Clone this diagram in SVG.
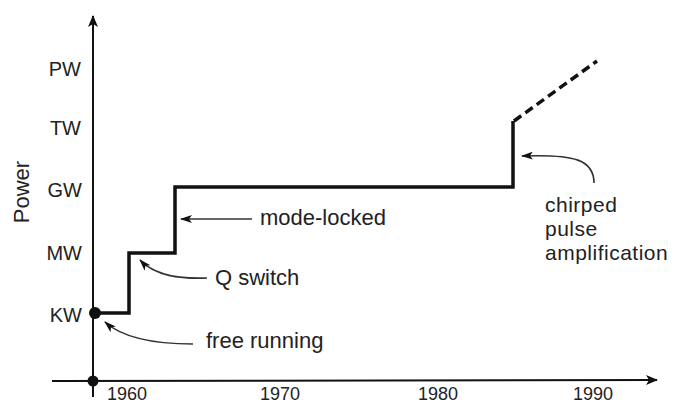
<svg xmlns="http://www.w3.org/2000/svg" width="674" height="405" viewBox="0 0 674 405">
  <style>
    .lbl { font-family: "Liberation Sans", Arial, sans-serif; font-size: 22px; fill: #222; }
    .note { font-family: "Liberation Sans", Arial, sans-serif; font-size: 21px; letter-spacing: 0.5px; fill: #222; }
    .unit { font-family: "Liberation Sans", Arial, sans-serif; font-size: 20px; fill: #222; }
    .tick { font-family: "Liberation Sans", Arial, sans-serif; font-size: 18px; fill: #222; }
    .axis { stroke: #111; stroke-width: 2; fill: none; }
    .step { stroke: #111; stroke-width: 3.5; fill: none; stroke-linejoin: miter; }
    .pointer { stroke: #333; stroke-width: 1.6; fill: none; marker-end: url(#tip); }
  </style>
  <defs>
    <marker id="tip" viewBox="0 0 12 8" refX="11" refY="4" markerWidth="12" markerHeight="8" markerUnits="userSpaceOnUse" orient="auto">
      <path d="M0,0 L12,4 L0,8 L3,4 Z" fill="#111"/>
    </marker>
    <marker id="axisTip" viewBox="0 0 12 10" refX="11" refY="5" markerWidth="12" markerHeight="10" markerUnits="userSpaceOnUse" orient="auto">
      <path d="M0,0 L12,5 L0,10 L3,5 Z" fill="#111"/>
    </marker>
  </defs>

  <rect width="674" height="405" fill="#fff"/>

  <!-- axes -->
  <g id="axes">
    <line class="axis" x1="93" y1="397" x2="93" y2="16" marker-end="url(#axisTip)"/>
    <line class="axis" x1="52" y1="381" x2="657" y2="380" marker-end="url(#axisTip)"/>
    <circle cx="93" cy="381" r="5.5" fill="#111"/>
    <text class="lbl" font-size="21" transform="translate(29,192) rotate(-90)" text-anchor="middle">Power</text>
    <g class="unit" text-anchor="end">
      <text x="81" y="76">PW</text>
      <text x="81" y="135">TW</text>
      <text x="82" y="197">GW</text>
      <text x="82" y="260">MW</text>
      <text x="82" y="322">KW</text>
    </g>
    <g class="tick" text-anchor="middle">
      <text x="127" y="400">1960</text>
      <text x="280" y="400">1970</text>
      <text x="438" y="400">1980</text>
      <text x="593" y="400">1990</text>
    </g>
  </g>

  <!-- power history -->
  <g id="history">
    <path class="step" d="M95,313 H129 V253 H175 V187 H513 V121"/>
    <line class="step" x1="514" y1="121" x2="597" y2="61" stroke-dasharray="9,5"/>
    <circle cx="95" cy="313" r="6" fill="#111"/>
  </g>

  <!-- labels -->
  <g id="free-running">
    <text class="lbl" x="206" y="348">free running</text>
  </g>
  <g id="q-switch">
    <text class="lbl" x="215" y="285">Q switch</text>
  </g>
  <g id="mode-locked">
    <text class="lbl" x="260" y="225">mode-locked</text>
  </g>
  <g id="cpa">
    <text class="note" x="545" y="212">chirped</text>
    <text class="note" x="545" y="236">pulse</text>
    <text class="note" x="545" y="260">amplification</text>
  </g>

  <!-- pointers -->
  <g id="connectors">
    <path class="pointer" d="M193,344 C160,344 125,340 105,322"/>
    <path class="pointer" d="M207,278 C180,279 155,276 140,260"/>
    <line class="pointer" x1="252" y1="219" x2="181" y2="219"/>
    <path class="pointer" d="M594,183 C594,160 575,154 522,156"/>
  </g>
</svg>
